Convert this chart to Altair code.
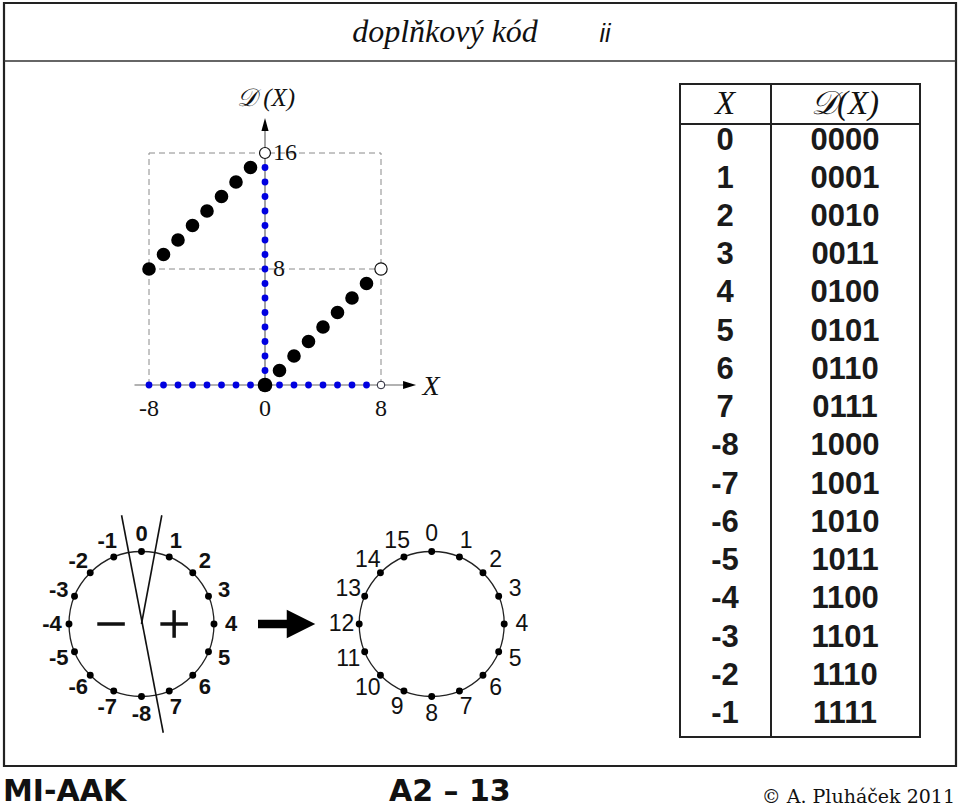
import math
import altair as alt
import pandas as pd

# ---------------- data ----------------
# graph of D(X) (two's complement code value)
graph_x = [-8, -7, -6, -5, -4, -3, -2, -1, 0, 1, 2, 3, 4, 5, 6, 7]
graph_d = [8, 9, 10, 11, 12, 13, 14, 15, 0, 1, 2, 3, 4, 5, 6, 7]
open_x = [8, 0]
open_d = [8, 16]
open_size = [150, 120]
open_small_x = [8]
open_small_d = [0]
blue_axis_x = [-8, -7, -6, -5, -4, -3, -2, -1, 1, 2, 3, 4, 5, 6, 7]
blue_axis_d = [1, 2, 3, 4, 5, 6, 7, 8, 9, 10, 11, 12, 13, 14, 15]
guide_x1 = [-8, 8, -8, -8]
guide_d1 = [0, 0, 16, 8]
guide_x2 = [-8, 8, 8, 8]
guide_d2 = [16, 16, 16, 8]
tick_x_vals = [-8, 0, 8]
tick_x_labels = ["-8", "0", "8"]
tick_d_vals = [16, 8]
tick_d_labels = ["16", "8"]
axis_x_extent = [-9.0, 9.6]   # x axis line (X units)
axis_d_extent = [0.0, 17.6]   # y axis line (D units)
arrow_x_tip = [9.97]
arrow_d_tip = [17.97]

# table
table_x = ["0", "1", "2", "3", "4", "5", "6", "7", "-8", "-7", "-6", "-5", "-4", "-3", "-2", "-1"]
table_code = ["0000", "0001", "0010", "0011", "0100", "0101", "0110", "0111",
              "1000", "1001", "1010", "1011", "1100", "1101", "1110", "1111"]
table_cols = ["X", "D"]

# circles
left_labels = ["0", "1", "2", "3", "4", "5", "6", "7", "-8", "-7", "-6", "-5", "-4", "-3", "-2", "-1"]
right_labels = [str(i) for i in range(16)]
n_pos = 16

# ---------------- helpers ----------------
def sc(domain, rng):
    return alt.Scale(domain=domain, range=rng, nice=False, zero=False)

one = pd.DataFrame({"a": [0]})

gX = sc([-8, 8], [149, 381])
gY = sc([0, 16], [385, 153])

def gx(f):
    return alt.X(f, type="quantitative", scale=gX, axis=None)

def gy(f):
    return alt.Y(f, type="quantitative", scale=gY, axis=None)

layers = []

# ---------- frame ----------
layers.append(alt.Chart(one).mark_rect(filled=False, stroke="#222", strokeWidth=2.2).encode(
    x=alt.value(4), x2=alt.value(956), y=alt.value(3), y2=alt.value(766)))
layers.append(alt.Chart(one).mark_rule(stroke="#333", strokeWidth=1.5).encode(
    x=alt.value(4), x2=alt.value(956), y=alt.value(61), y2=alt.value(61)))

# title
layers.append(alt.Chart(one).mark_text(text="doplňkový kód", font="Liberation Serif", fontStyle="italic",
                                       fontSize=32, align="center", baseline="alphabetic", color="#111").encode(
    x=alt.value(445), y=alt.value(42)))
layers.append(alt.Chart(one).mark_text(text="ii", font="Liberation Sans", fontStyle="italic",
                                       fontSize=25, align="center", baseline="alphabetic", color="#111").encode(
    x=alt.value(605), y=alt.value(42)))

# footer
layers.append(alt.Chart(one).mark_text(text="MI-AAK", font="DejaVu Sans", fontWeight="bold",
                                       fontSize=30, align="left", baseline="bottom", color="#111").encode(
    x=alt.value(3), y=alt.value(807)))
layers.append(alt.Chart(one).mark_text(text="A2 – 13", font="DejaVu Sans", fontWeight="bold",
                                       fontSize=30, align="left", baseline="bottom", color="#111").encode(
    x=alt.value(389), y=alt.value(807)))
layers.append(alt.Chart(one).mark_text(text="© A. Pluháček 2011", font="DejaVu Serif",
                                       fontSize=19, align="right", baseline="bottom", color="#111").encode(
    x=alt.value(955), y=alt.value(807)))

# ---------- graph ----------
guides = pd.DataFrame({"x1": guide_x1, "d1": guide_d1, "x2": guide_x2, "d2": guide_d2})
layers.append(alt.Chart(guides).mark_rule(stroke="#8a8a8a", strokeWidth=1, strokeDash=[6, 4]).encode(
    x=gx("x1"), y=gy("d1"), x2="x2", y2="d2"))

axes = pd.DataFrame({"x1": [axis_x_extent[0], 0.0], "d1": [0.0, axis_d_extent[0]],
                     "x2": [axis_x_extent[1], 0.0], "d2": [0.0, axis_d_extent[1]]})
layers.append(alt.Chart(axes).mark_rule(stroke="#666", strokeWidth=1.2).encode(
    x=gx("x1"), y=gy("d1"), x2="x2", y2="d2"))

layers.append(alt.Chart(pd.DataFrame({"x": arrow_x_tip, "d": [0.0]})).mark_point(
    shape="M-1,-0.62L1,0L-1,0.62Z", filled=True, color="#000", opacity=1, size=169).encode(
    x=gx("x"), y=gy("d")))
layers.append(alt.Chart(pd.DataFrame({"x": [0.0], "d": arrow_d_tip})).mark_point(
    shape="M-0.55,1L0,-1L0.55,1Z", filled=True, color="#000", opacity=1, size=169).encode(
    x=gx("x"), y=gy("d")))

blue = pd.DataFrame({"x": blue_axis_x + [0] * len(blue_axis_d),
                     "d": [0] * len(blue_axis_x) + blue_axis_d})
layers.append(alt.Chart(blue).mark_circle(color="#0000e0", opacity=1, size=46).encode(
    x=gx("x"), y=gy("d")))

black = pd.DataFrame({"x": graph_x, "d": graph_d})
layers.append(alt.Chart(black).mark_circle(color="#000", opacity=1, size=185).encode(
    x=gx("x"), y=gy("d"),
    size=alt.condition("datum.x == 0", alt.value(215), alt.value(185))))

layers.append(alt.Chart(pd.DataFrame({"x": open_x, "d": open_d, "s": open_size})).mark_point(
    shape="circle", filled=True, fill="white", stroke="#111", strokeWidth=1.2, opacity=1).encode(
    x=gx("x"), y=gy("d"), size=alt.Size("s:Q", scale=None, legend=None)))
layers.append(alt.Chart(pd.DataFrame({"x": open_small_x, "d": open_small_d})).mark_point(
    shape="circle", filled=True, fill="white", stroke="#223", strokeWidth=1, opacity=1, size=58).encode(
    x=gx("x"), y=gy("d")))

layers.append(alt.Chart(pd.DataFrame({"x": tick_x_vals, "t": tick_x_labels, "d": [0] * 3})).mark_text(
    font="Liberation Serif", fontSize=24, align="center", baseline="middle", dy=24, color="#111").encode(
    x=gx("x"), y=gy("d"), text="t:N"))
layers.append(alt.Chart(pd.DataFrame({"d": tick_d_vals, "t": tick_d_labels, "x": [0] * 2})).mark_text(
    font="Liberation Serif", fontSize=24, align="left", baseline="middle", dx=8, color="#111").encode(
    x=gx("x"), y=gy("d"), text="t:N"))

layers.append(alt.Chart(one).mark_text(text="X", font="Liberation Serif", fontStyle="italic",
                                       fontSize=28, align="center", baseline="middle", color="#111").encode(
    x=alt.value(431), y=alt.value(387)))
layers.append(alt.Chart(one).mark_text(text="𝒟 (X)", font="Liberation Serif", fontStyle="italic",
                                       fontSize=25, align="center", baseline="middle", color="#111").encode(
    x=alt.value(266), y=alt.value(98)))

# ---------- table ----------
layers.append(alt.Chart(one).mark_rect(filled=False, stroke="#222", strokeWidth=2).encode(
    x=alt.value(680), x2=alt.value(920), y=alt.value(84), y2=alt.value(737)))
layers.append(alt.Chart(one).mark_rule(stroke="#222", strokeWidth=2).encode(
    x=alt.value(680), x2=alt.value(920), y=alt.value(124), y2=alt.value(124)))
layers.append(alt.Chart(one).mark_rule(stroke="#222", strokeWidth=2).encode(
    x=alt.value(771), x2=alt.value(771), y=alt.value(84), y2=alt.value(737)))

hdr = pd.DataFrame({"col": table_cols, "t": ["X", "𝒟(X)"]})
layers.append(alt.Chart(hdr).mark_text(font="Liberation Serif", fontStyle="italic", fontSize=33,
                                       align="center", baseline="middle", color="#111").encode(
    x=alt.X("col:N", scale=alt.Scale(type="point", domain=table_cols, range=[725, 845], padding=0), axis=None),
    y=alt.value(104), text="t:N"))

rows = []
for i, (xv, code) in enumerate(zip(table_x, table_code)):
    rows.append({"row": i, "col": "X", "t": xv})
    rows.append({"row": i, "col": "D", "t": code})
tbl = pd.DataFrame(rows)
layers.append(alt.Chart(tbl).mark_text(font="Liberation Sans", fontWeight="bold", fontSize=31,
                                       align="center", baseline="middle", color="#1a1a1a").encode(
    x=alt.X("col:N", scale=alt.Scale(type="point", domain=table_cols, range=[725, 845], padding=0), axis=None),
    y=alt.Y("row:Q", scale=sc([0, 15], [140.5, 714]), axis=None),
    text="t:N"))

# ---------- circles ----------
R = 72.5

def circle_layers(labels, cx, label_r, bold):
    cX = sc([-1, 1], [cx - R, cx + R])
    cY = sc([-1, 1], [624 + R, 624 - R])
    out = []
    out.append(alt.Chart(pd.DataFrame({"u": [0.0], "v": [0.0]})).mark_point(
        shape="circle", filled=False, stroke="#222", strokeWidth=1.3, opacity=1,
        size=(2 * R) ** 2).encode(
        x=alt.X("u:Q", scale=cX, axis=None), y=alt.Y("v:Q", scale=cY, axis=None)))
    pos = pd.DataFrame({"k": list(range(n_pos)), "t": labels})
    out.append(alt.Chart(pos).transform_calculate(
        u="sin(datum.k * PI / 8)", v="cos(datum.k * PI / 8)").mark_circle(
        color="#000", opacity=1, size=48).encode(
        x=alt.X("u:Q", scale=cX, axis=None), y=alt.Y("v:Q", scale=cY, axis=None)))
    out.append(alt.Chart(pos).transform_calculate(
        u=f"{label_r} * sin(datum.k * PI / 8)", v=f"{label_r} * cos(datum.k * PI / 8)").mark_text(
        font="Liberation Sans", fontWeight="bold" if bold else "normal", fontSize=22 if bold else 23,
        align="center", baseline="middle", color="#111").encode(
        x=alt.X("u:Q", scale=cX, axis=None), y=alt.Y("v:Q", scale=cY, axis=None), text="t:N"))
    return out, cX, cY

lc, lX, lY = circle_layers(left_labels, 141.5, 1.235, True)
layers += lc
rc, rX, rY = circle_layers(right_labels, 431.7, 1.245, False)
layers += rc

# dividing lines & signs in left circle
div = pd.DataFrame({"u1": [-0.275, 0.0], "v1": [1.5, 0.0], "u2": [0.30, 0.28], "v2": [-1.5, 1.5]})
layers.append(alt.Chart(div).mark_rule(stroke="#111", strokeWidth=1.6).encode(
    x=alt.X("u1:Q", scale=lX, axis=None), y=alt.Y("v1:Q", scale=lY, axis=None), x2="u2", y2="v2"))
signs = pd.DataFrame({"u1": [-0.61, 0.26, 0.45], "v1": [0.0, 0.0, -0.19],
                      "u2": [-0.23, 0.64, 0.45], "v2": [0.0, 0.0, 0.19]})
layers.append(alt.Chart(signs).mark_rule(stroke="#111", strokeWidth=3.5).encode(
    x=alt.X("u1:Q", scale=lX, axis=None), y=alt.Y("v1:Q", scale=lY, axis=None), x2="u2", y2="v2"))

# big arrow between circles
layers.append(alt.Chart(one).mark_rule(stroke="#000", strokeWidth=8.5).encode(
    x=alt.value(258), x2=alt.value(289), y=alt.value(624), y2=alt.value(624)))
layers.append(alt.Chart(one).mark_point(shape="M-1,-1L1,0L-1,1Z", filled=True, color="#000",
                                        opacity=1, size=28.5 ** 2).encode(
    x=alt.value(301), y=alt.value(624)))

chart = alt.layer(*layers).resolve_scale(x="independent", y="independent").properties(
    width=960, height=807, autosize=alt.AutoSizeParams(type="none"), padding=0,
    background="white").configure_view(stroke="transparent")

chart.save("out.html", embed_options={"renderer": "svg", "actions": False})
